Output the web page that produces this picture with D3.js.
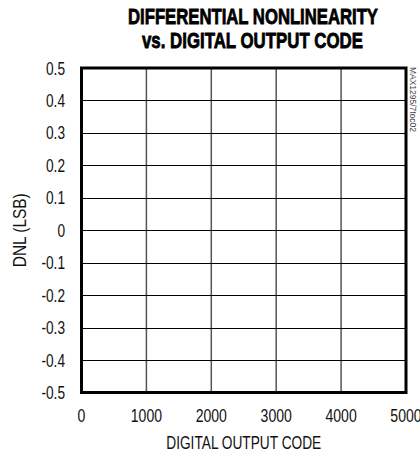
<!DOCTYPE html>
<html>
<head>
<meta charset="utf-8">
<script src="https://cdn.jsdelivr.net/npm/d3@7"></script>
<style>
  body { margin: 0; background: #fff; }
  text { font-family: "Liberation Sans", Arial, sans-serif; }
</style>
</head>
<body>
<div id="chart"></div>
<script>
// chart texts
const titleLines = ["DIFFERENTIAL NONLINEARITY", "vs. DIGITAL OUTPUT CODE"];
const xLabel = "DIGITAL OUTPUT CODE";
const yLabel = "DNL (LSB)";
const sideNote = "MAX1295/7toc02";

// axis ranges and ticks
const xDomain = [0, 5000];
const yDomain = [-0.5, 0.5];
const xTicks = [0, 1000, 2000, 3000, 4000, 5000];
const yTicks = [-0.5, -0.4, -0.3, -0.2, -0.1, 0, 0.1, 0.2, 0.3, 0.4, 0.5];

const width = 420;
const height = 456;
const margin = { top: 68, right: 14, bottom: 63.5, left: 81.5 };

// no narrow font installed, so squeeze the regular one
const narrow = 0.74;

const svg = d3.select("#chart")
  .append("svg")
  .attr("width", width)
  .attr("height", height);

const x = d3.scaleLinear().domain(xDomain).range([margin.left, width - margin.right]);
const y = d3.scaleLinear().domain(yDomain).range([height - margin.bottom, margin.top]);

// grid lines
svg.append("g")
  .selectAll("line")
  .data(xTicks.slice(1, -1))
  .join("line")
  .attr("x1", (d) => x(d))
  .attr("x2", (d) => x(d))
  .attr("y1", y(0.5))
  .attr("y2", y(-0.5))
  .attr("stroke", "#555")
  .attr("stroke-width", 1.5);

svg.append("g")
  .selectAll("line")
  .data(yTicks.slice(1, -1))
  .join("line")
  .attr("x1", x(0))
  .attr("x2", x(5000))
  .attr("y1", (d) => Math.round(y(d)) + 0.5)
  .attr("y2", (d) => Math.round(y(d)) + 0.5)
  .attr("stroke", "#000")
  .attr("stroke-width", 1);

// frame
svg.append("rect")
  .attr("x", x(0))
  .attr("y", y(0.5))
  .attr("width", x(5000) - x(0))
  .attr("height", y(-0.5) - y(0.5))
  .attr("fill", "none")
  .attr("stroke", "#000")
  .attr("stroke-width", 3);

// tick labels
const fmtY = (d) => (d === 0 ? "0" : d3.format(".1f")(d).replace("−", "-"));

svg.append("g")
  .selectAll("text")
  .data(yTicks)
  .join("text")
  .attr("transform", (d) => `translate(65,${y(d) + 6.5}) scale(${narrow},1)`)
  .attr("text-anchor", "end")
  .attr("font-size", 18.5)
  .attr("fill", "#111")
  .text(fmtY);

svg.append("g")
  .selectAll("text")
  .data(xTicks)
  .join("text")
  .attr("transform", (d) => `translate(${x(d)},421.5) scale(${narrow},1)`)
  .attr("text-anchor", "middle")
  .attr("font-size", 19)
  .attr("fill", "#111")
  .text((d) => d);

// axis titles
svg.append("text")
  .attr("x", (x(0) + x(5000)) / 2)
  .attr("y", 449)
  .attr("text-anchor", "middle")
  .attr("font-size", 19)
  .attr("textLength", 155)
  .attr("lengthAdjust", "spacingAndGlyphs")
  .attr("fill", "#111")
  .text(xLabel);

svg.append("text")
  .attr("transform", `translate(26,${(y(0.5) + y(-0.5)) / 2}) rotate(-90)`)
  .attr("text-anchor", "middle")
  .attr("font-size", 18)
  .attr("textLength", 74)
  .attr("lengthAdjust", "spacingAndGlyphs")
  .attr("fill", "#111")
  .text(yLabel);

// chart title
const titleWidths = [250, 221];
svg.append("g")
  .selectAll("text")
  .data(titleLines)
  .join("text")
  .attr("x", (d, i) => (i === 0 ? 253 : 252.5))
  .attr("y", (d, i) => 23.5 + i * 24)
  .attr("text-anchor", "middle")
  .attr("font-size", 22)
  .attr("font-weight", "bold")
  .attr("textLength", (d, i) => titleWidths[i])
  .attr("lengthAdjust", "spacingAndGlyphs")
  .attr("fill", "#000")
  .attr("stroke", "#000")
  .attr("stroke-width", 0.8)
  .text((d) => d);

// figure id
svg.append("text")
  .attr("transform", `translate(410,67) rotate(90)`)
  .attr("font-size", 9)
  .attr("textLength", 65)
  .attr("lengthAdjust", "spacingAndGlyphs")
  .attr("fill", "#444")
  .text(sideNote);
</script>
</body>
</html>
